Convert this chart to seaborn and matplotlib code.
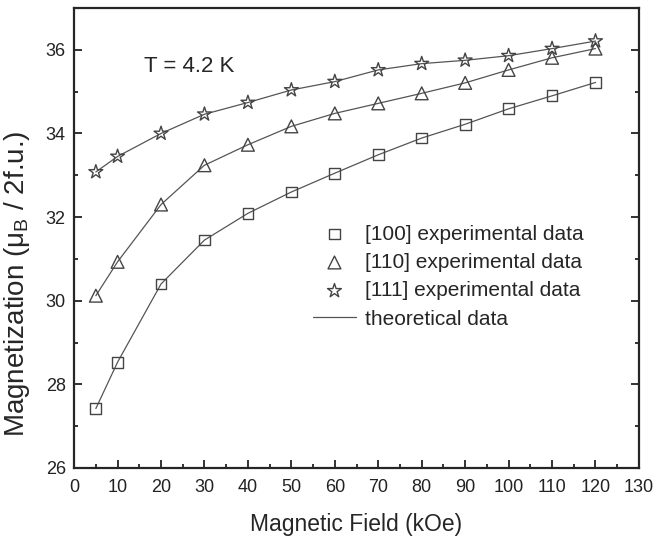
import seaborn as sns
import matplotlib.pyplot as plt
from matplotlib.ticker import MultipleLocator

field = [5, 10, 20, 30, 40, 50, 60, 70, 80, 90, 100, 110, 120]
m100 = [27.42, 28.53, 30.40, 31.45, 32.09, 32.60, 33.05, 33.49, 33.89, 34.22, 34.59, 34.90, 35.22]
m110 = [30.12, 30.93, 32.30, 33.24, 33.73, 34.17, 34.48, 34.72, 34.96, 35.21, 35.52, 35.81, 36.03]
m111 = [33.08, 33.45, 34.00, 34.46, 34.74, 35.04, 35.24, 35.52, 35.67, 35.75, 35.86, 36.03, 36.21]
labels = ['[100] experimental data', '[110] experimental data', '[111] experimental data']

sns.set_style('ticks')
plt.rcParams['font.family'] = ['Liberation Sans', 'DejaVu Sans']
plt.rcParams['mathtext.fontset'] = 'custom'
plt.rcParams['mathtext.rm'] = 'Liberation Sans'

fig = plt.figure(figsize = (6.56, 5.36), dpi = 100)
ax = fig.add_axes([0.113, 0.127, 0.861, 0.858])

grey = '#555555'
handles = []
for m, mk, sz in zip([m100, m110, m111], ['s', '^', '*'], [60, 85, 110]):
    sns.lineplot(x = field, y = m, ax = ax, color = grey, linewidth = 0.9, zorder = 1)
    sns.scatterplot(x = field, y = m, ax = ax, marker = mk, s = sz,
                    facecolor = 'none', edgecolor = '#444444', linewidth = 1.0, zorder = 2)
    handles.append(ax.collections[-1])
line = ax.lines[0]

ax.legend(handles + [line], labels + ['theoretical data'], frameon = False,
          fontsize = 15, loc = 'upper left', bbox_to_anchor = (0.389, 0.57),
          handlelength = 2.1, handletextpad = 0.4, labelspacing = 0.45)

ax.text(16, 35.6, 'T = 4.2 K', fontsize = 16, va = 'center')

ax.set_xlim(0, 130)
ax.set_ylim(26, 37)
ax.xaxis.set_major_locator(MultipleLocator(10))
ax.xaxis.set_minor_locator(MultipleLocator(5))
ax.yaxis.set_major_locator(MultipleLocator(2))
ax.yaxis.set_minor_locator(MultipleLocator(1))
ax.tick_params(which = 'both', direction = 'in', right = True, width = 1.3, labelsize = 13, colors = '#222222')
ax.tick_params(which = 'major', length = 6)
ax.tick_params(which = 'minor', length = 3)
ax.tick_params(axis = 'x', pad = 8)
ax.tick_params(axis = 'y', pad = 6)
for s in ax.spines.values():
    s.set_linewidth(1.6)
ax.set_xlabel('Magnetic Field (kOe)', fontsize = 16.5, labelpad = 12)
ax.set_ylabel(r'Magnetization (μ$_\mathrm{B}$ / 2f.u.)', fontsize = 20)
ax.yaxis.set_label_coords(-0.074, 0.40)

plt.savefig('out.png', dpi = 100)
